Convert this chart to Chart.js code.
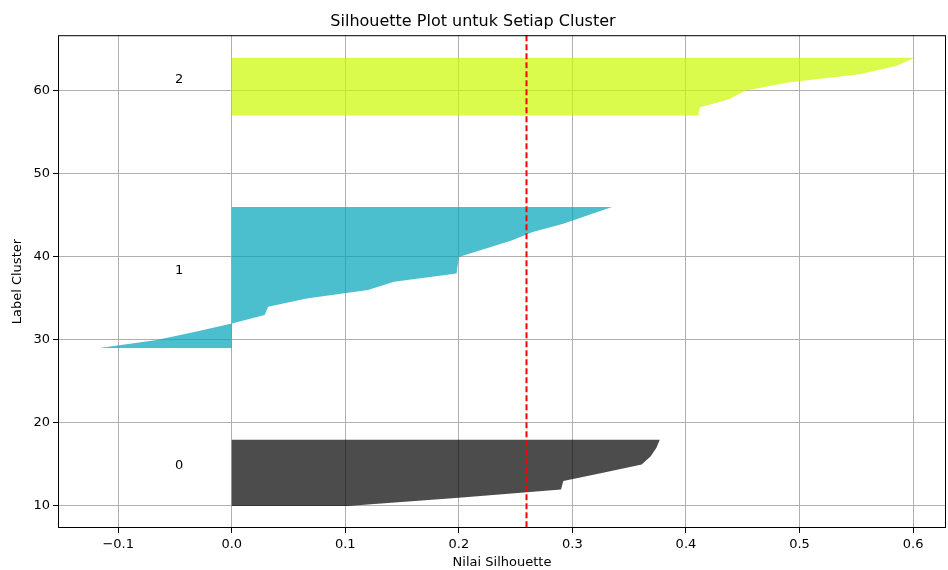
<!DOCTYPE html>
<html>
<head>
<meta charset="utf-8">
<script src="https://cdn.jsdelivr.net/npm/chart.js@4.4.1/dist/chart.umd.min.js"></script>
<style>
  body { margin: 0; background: #fff; }
  canvas { display: block; }
</style>
</head>
<body>
<canvas id="silhouetteChart" width="948" height="570"></canvas>
<script>
// silhouette values per cluster, sorted ascending
const clusterNames = ['0', '1', '2'];
const cluster0Values = [0.102, 0.200, 0.290, 0.292, 0.327, 0.361, 0.369, 0.374, 0.377];
const cluster1Values = [-0.118, -0.066, -0.032, 0.001, 0.029, 0.032, 0.066, 0.120, 0.143,
                        0.198, 0.199, 0.200, 0.224, 0.247, 0.265, 0.292, 0.313, 0.335];
const cluster2Values = [0.411, 0.412, 0.438, 0.452, 0.490, 0.553, 0.585, 0.602];
const clusterColors = ['rgba(0, 0, 0, 0.7)', 'rgba(0, 164, 187, 0.7)', 'rgba(204, 249, 0, 0.7)'];
const avgScore = 0.259;

const xTicks = [-0.1, 0.0, 0.1, 0.2, 0.3, 0.4, 0.5, 0.6];
const yTicks = [10, 20, 30, 40, 50, 60];

const FONT = 'DejaVu Sans';

//Stacking the clusters on the y axis like a silhouette plot does
const allValues = [cluster0Values, cluster1Values, cluster2Values];
const clusterLabelPos = [];
let yLower = 10;
const datasets = allValues.map((vals, c) => {
  const pts = vals.map((v, i) => ({ x: v, y: yLower + i }));
  clusterLabelPos.push({ text: clusterNames[c], y: yLower + 0.5 * vals.length });
  yLower = yLower + vals.length + 10;
  return {
    label: 'Cluster ' + clusterNames[c],
    data: pts,
    backgroundColor: clusterColors[c],
    borderColor: clusterColors[c],
    borderWidth: 0,
    pointRadius: 0,
    tension: 0,
    fill: 'origin'
  };
});

//Cluster numbers, the dashed average line and the frame
const extras = {
  id: 'extras',
  afterDatasetsDraw(chart) {
    const { ctx, chartArea, scales } = chart;
    ctx.save();
    ctx.fillStyle = '#000';
    ctx.font = '13px "' + FONT + '"';
    ctx.textAlign = 'left';
    ctx.textBaseline = 'alphabetic';
    clusterLabelPos.forEach(l => {
      ctx.fillText(l.text, scales.x.getPixelForValue(-0.05), scales.y.getPixelForValue(l.y));
    });

    const ax = Math.round(scales.x.getPixelForValue(avgScore)) + 0.5;
    ctx.strokeStyle = '#ff0000';
    ctx.lineWidth = 2;
    ctx.setLineDash([6, 3]);
    ctx.beginPath();
    ctx.moveTo(ax, chartArea.top);
    ctx.lineTo(ax, chartArea.bottom);
    ctx.stroke();

    ctx.setLineDash([]);
    ctx.strokeStyle = '#000';
    ctx.lineWidth = 1;
    ctx.strokeRect(chartArea.left + 0.5, chartArea.top + 0.5,
      chartArea.right - chartArea.left - 1, chartArea.bottom - chartArea.top - 1);
    ctx.restore();
  }
};

new Chart(document.getElementById('silhouetteChart'), {
  type: 'line',
  data: { datasets: datasets },
  options: {
    indexAxis: 'y',
    responsive: false,
    animation: false,
    layout: { padding: { left: 0, right: 2, top: 0, bottom: 0 } },
    plugins: {
      legend: { display: false },
      tooltip: { enabled: false },
      title: {
        display: true,
        text: 'Silhouette Plot untuk Setiap Cluster',
        color: '#000',
        font: { family: FONT, size: 16, weight: 'normal' },
        padding: { top: 12, bottom: 4 }
      }
    },
    scales: {
      x: {
        type: 'linear',
        min: -0.153,
        max: 0.629,
        afterBuildTicks: s => { s.ticks = xTicks.map(v => ({ value: v })); },
        afterFit: s => { s.height = 42; },
        grid: { color: '#b0b0b0', lineWidth: 1, tickColor: '#000', tickLength: 5 },
        border: { display: false },
        ticks: {
          color: '#000',
          padding: 4,
          maxRotation: 0,
          font: { family: FONT, size: 13 },
          callback: v => (v < 0 ? '\u2212' : '') + Math.abs(v).toFixed(1)
        },
        title: {
          display: true,
          text: 'Nilai Silhouette',
          color: '#000',
          font: { family: FONT, size: 13 },
          padding: { top: 0, bottom: 0 }
        }
      },
      y: {
        type: 'linear',
        min: 7.35,
        max: 66.7,
        afterBuildTicks: s => { s.ticks = yTicks.map(v => ({ value: v })); },
        afterFit: s => { s.width = 58; },
        grid: { color: '#b0b0b0', lineWidth: 1, tickColor: '#000', tickLength: 5 },
        border: { display: false },
        ticks: {
          color: '#000',
          padding: 3,
          font: { family: FONT, size: 13 }
        },
        title: {
          display: true,
          text: 'Label Cluster',
          color: '#000',
          font: { family: FONT, size: 13 },
          padding: { top: 10, bottom: 0 }
        }
      }
    }
  },
  plugins: [extras]
});
</script>
</body>
</html>
